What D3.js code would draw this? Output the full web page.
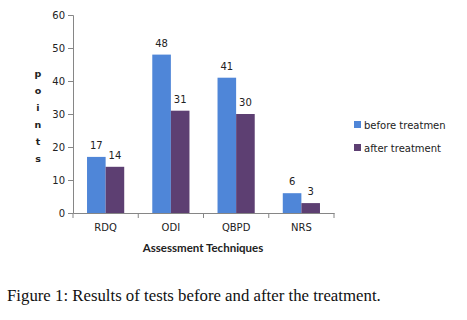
<!DOCTYPE html>
<html>
<head>
<meta charset="utf-8">
<script src="https://cdn.jsdelivr.net/npm/d3@7"></script>
<style>
    body { margin: 0; background: #fff; }
    #chart { width: 467px; height: 320px; }
</style>
</head>
<body>
<div id="chart"></div>
<script>
// data
let categories = ["RDQ", "ODI", "QBPD", "NRS"];
let seriesNames = ["before treatmen", "after treatment"];
let beforeValues = [17, 48, 41, 6];
let afterValues = [14, 31, 30, 3];
let yTicks = [0, 10, 20, 30, 40, 50, 60];

let colors = ["#4f86d8", "#5d3f72"];

let margin = {top: 15, left: 73};
let width = 261, height = 198;

let svg = d3.select("#chart").append("svg")
    .attr("width", 467)
    .attr("height", 320);

let g = svg.append("g")
    .attr("transform", "translate(" + margin.left + "," + margin.top + ")");

let x = d3.scaleBand()
    .domain(categories)
    .range([0, width])
    .paddingInner(0.43)
    .paddingOuter(0.215);

let x1 = d3.scaleBand()
    .domain([0, 1])
    .range([0, x.bandwidth()]);

let y = d3.scaleLinear()
    .domain([0, 60])
    .range([height, 0]);

// y axis
let yAxis = g.append("g")
    .call(d3.axisLeft(y).tickValues(yTicks).tickSize(5).tickPadding(3));
yAxis.select(".domain").attr("stroke", "#868686");
yAxis.selectAll(".tick line").attr("stroke", "#868686");
yAxis.selectAll("text").attr("font-family", "DejaVu Sans").attr("font-size", 10).attr("fill", "#222");

// x axis with ticks on category boundaries
let xAxis = g.append("g")
    .attr("transform", "translate(0," + height + ")")
    .call(d3.axisBottom(x).tickSize(0).tickPadding(11));
xAxis.select(".domain").attr("stroke", "#868686");
xAxis.selectAll("text").attr("font-family", "DejaVu Sans").attr("font-size", 10).attr("fill", "#222");
xAxis.selectAll(".boundary")
    .data(d3.range(categories.length + 1))
    .enter().append("line")
    .attr("x1", d => d * x.step())
    .attr("x2", d => d * x.step())
    .attr("y1", 0)
    .attr("y2", 5)
    .attr("stroke", "#868686");

let rows = categories.map((c, i) => ({cat: c, vals: [beforeValues[i], afterValues[i]]}));

let groups = g.selectAll(".grp")
    .data(rows)
    .enter().append("g")
    .attr("transform", d => "translate(" + x(d.cat) + ",0)");

groups.selectAll("rect")
    .data(d => d.vals.map((v, k) => ({v: v, k: k})))
    .enter().append("rect")
    .attr("x", d => x1(d.k))
    .attr("y", d => y(d.v))
    .attr("width", x1.bandwidth())
    .attr("height", d => height - y(d.v))
    .attr("fill", d => colors[d.k]);

groups.selectAll(".lbl")
    .data(d => d.vals.map((v, k) => ({v: v, k: k})))
    .enter().append("text")
    .attr("x", d => x1(d.k) + x1.bandwidth() / 2)
    .attr("y", d => y(d.v) - 8)
    .attr("text-anchor", "middle")
    .attr("font-family", "DejaVu Sans")
    .attr("font-size", 10)
    .attr("fill", "#222")
    .text(d => d.v);

// y title, letters stacked
let yTitle = "points".split("");
svg.selectAll(".ylet")
    .data(yTitle)
    .enter().append("text")
    .attr("x", 38)
    .attr("y", (d, i) => 77 + i * 17)
    .attr("text-anchor", "middle")
    .attr("font-family", "DejaVu Sans")
    .attr("font-weight", "bold")
    .attr("font-size", 9.5)
    .attr("fill", "#222")
    .text(d => d);

// x title
svg.append("text")
    .attr("x", 203)
    .attr("y", 252)
    .attr("text-anchor", "middle")
    .attr("font-family", "Lato")
    .attr("font-weight", "bold")
    .attr("font-size", 11.5)
    .attr("fill", "#222")
    .text("Assessment Techniques");

// legend
let legend = svg.selectAll(".leg")
    .data(seriesNames)
    .enter().append("g")
    .attr("transform", (d, i) => "translate(354," + (121 + i * 23) + ")");
legend.append("rect")
    .attr("width", 7)
    .attr("height", 7)
    .attr("fill", (d, i) => colors[i]);
legend.append("text")
    .attr("x", 10)
    .attr("y", 7.5)
    .attr("font-family", "DejaVu Sans")
    .attr("font-size", 10)
    .attr("fill", "#222")
    .text(d => d);

// caption
svg.append("text")
    .attr("x", 7)
    .attr("y", 301)
    .attr("font-family", "Liberation Serif")
    .attr("font-size", 16.8)
    .attr("fill", "#111")
    .text("Figure 1: Results of tests before and after the treatment.");
</script>
</body>
</html>
